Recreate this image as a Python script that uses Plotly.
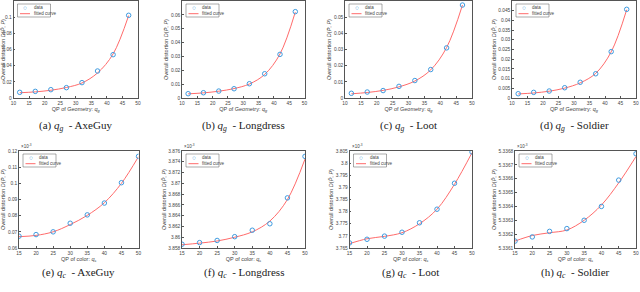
import plotly.graph_objects as go

W, H = 640, 292

# ---------------- data ----------------
qp_geo = [12, 17, 22, 27, 32, 37, 42, 47]
qp_col = [15, 20, 25, 30, 35, 40, 45, 50]

axeguy_g = [0.0070, 0.0082, 0.0103, 0.0128, 0.0190, 0.0334, 0.0536, 0.1023]
axeguy_g_fit = [0.0065, 0.0076, 0.0096, 0.0130, 0.0186, 0.0310, 0.0545, 0.1020]
longdress_g = [0.0031, 0.0038, 0.0050, 0.0067, 0.0103, 0.0175, 0.0315, 0.0623]
longdress_g_fit = [0.0030, 0.0037, 0.0049, 0.0068, 0.0101, 0.0170, 0.0318, 0.0620]
loot_g = [0.0029, 0.0037, 0.0046, 0.0072, 0.0108, 0.0176, 0.0310, 0.0575]
loot_g_fit = [0.0026, 0.0034, 0.0047, 0.0069, 0.0105, 0.0174, 0.0312, 0.0575]
soldier_g = [0.0022, 0.0029, 0.0036, 0.0053, 0.0081, 0.0125, 0.0239, 0.0457]
soldier_g_fit = [0.0021, 0.0026, 0.0035, 0.0051, 0.0078, 0.0127, 0.0238, 0.0455]

axeguy_c = [0.0673, 0.0683, 0.0700, 0.0753, 0.0805, 0.0878, 0.1004, 0.1167]
axeguy_c_fit = [0.0670, 0.0678, 0.0700, 0.0745, 0.0802, 0.0880, 0.1000, 0.1165]
longdress_c = [3.8587, 3.8590, 3.8594, 3.8601, 3.8613, 3.8625, 3.8673, 3.8750]
longdress_c_fit = [3.8586, 3.8589, 3.8593, 3.8600, 3.8610, 3.8630, 3.8670, 3.8745]
loot_c = [3.7671, 3.7686, 3.7699, 3.7715, 3.7754, 3.7810, 3.7917, 3.8046]
loot_c_fit = [3.7668, 3.7688, 3.7698, 3.7713, 3.7750, 3.7810, 3.7913, 3.8043]
soldier_c = [5.33615, 5.33618, 5.33622, 5.33624, 5.33630, 5.33640, 5.33659, 5.33678]
soldier_c_fit = [5.33615, 5.33619, 5.33621, 5.33623, 5.33630, 5.33641, 5.33657, 5.33676]

xticks_geo = [10, 15, 20, 25, 30, 35, 40, 45, 50]
xticks_col = [15, 20, 25, 30, 35, 40, 45, 50]
yt_a = ["0", "0.02", "0.04", "0.06", "0.08", "0.1", "0.12"]
yt_b = ["0", "0.01", "0.02", "0.03", "0.04", "0.05", "0.06", "0.07"]
yt_c = ["0", "0.01", "0.02", "0.03", "0.04", "0.05", "0.06"]
yt_d = ["0", "0.005", "0.01", "0.015", "0.02", "0.025", "0.03", "0.035", "0.04", "0.045", "0.05"]
yt_e = ["0.06", "0.07", "0.08", "0.09", "0.1", "0.11", "0.12"]
yt_f = ["3.858", "3.86", "3.862", "3.864", "3.866", "3.868", "3.87", "3.872", "3.874", "3.876"]
yt_g = ["3.765", "3.77", "3.775", "3.78", "3.785", "3.79", "3.795", "3.8", "3.805"]
yt_h = ["5.3361", "5.3362", "5.3363", "5.3364", "5.3365", "5.3366", "5.3367", "5.3368"]

captions = [
    "(a) <i>q<sub>g</sub></i>  - AxeGuy",
    "(b) <i>q<sub>g</sub></i>  - Longdress",
    "(c) <i>q<sub>g</sub></i>  - Loot",
    "(d) <i>q<sub>g</sub></i>  - Soldier",
    "(e) <i>q<sub>c</sub></i>  - AxeGuy",
    "(f) <i>q<sub>c</sub></i>  - Longdress",
    "(g) <i>q<sub>c</sub></i>  - Loot",
    "(h) <i>q<sub>c</sub></i>  - Soldier",
]
xtitle_geo = "QP of Geometry: <i>q<sub>g</sub></i>"
xtitle_col = "QP of color: <i>q<sub>c</sub></i>"
ytitle = "Overall distortion <i>D</i>(<i>P̂</i>, <i>P</i>)"
exp_label = "×10<sup>-3</sup>"
legend_data = "data"
legend_fit = "fitted curve"

# ---------------- layout (pixel boxes) ----------------
panels = [
    # x0, x1, y0(top), y1(bottom)
    (13.5, 138, 1, 98),
    (182, 304.5, 1, 98),
    (345, 472, 1, 98),
    (512, 636, 1, 98),
    (19, 138.5, 151, 248),
    (182, 305, 151, 248),
    (349.5, 472, 151, 248),
    (515, 636, 151, 248),
]
cap_y = [126, 126, 126, 126, 273, 273, 273, 273]

series = [
    (qp_geo, axeguy_g, axeguy_g_fit, yt_a, xticks_geo, xtitle_geo),
    (qp_geo, longdress_g, longdress_g_fit, yt_b, xticks_geo, xtitle_geo),
    (qp_geo, loot_g, loot_g_fit, yt_c, xticks_geo, xtitle_geo),
    (qp_geo, soldier_g, soldier_g_fit, yt_d, xticks_geo, xtitle_geo),
    (qp_col, axeguy_c, axeguy_c_fit, yt_e, xticks_col, xtitle_col),
    (qp_col, longdress_c, longdress_c_fit, yt_f, xticks_col, xtitle_col),
    (qp_col, loot_c, loot_c_fit, yt_g, xticks_col, xtitle_col),
    (qp_col, soldier_c, soldier_c_fit, yt_h, xticks_col, xtitle_col),
]

MARKER_C = "#3f9be0"
LINE_C = "#ff6b6b"
TXT = "#444"
AX = "#555"

fig = go.Figure()
annotations = []
shapes = []
layout = dict(
    width=W, height=H, margin=dict(l=0, r=0, t=0, b=0),
    paper_bgcolor="white", plot_bgcolor="white", showlegend=False,
    font=dict(family="Liberation Sans", size=5, color=TXT),
)


def px(x):
    return x / W


def py(y):
    return 1 - y / H


for i, (xs, ys, yfit, ytl, xtv, xtitle) in enumerate(series):
    n = i + 1
    xa = "x" if n == 1 else f"x{n}"
    ya = "y" if n == 1 else f"y{n}"
    x0, x1, t, b = panels[i]
    ytv = [float(v) for v in ytl]
    fig.add_trace(go.Scatter(
        x=xs, y=yfit, mode="lines", name=legend_fit, line_shape="spline",
        line=dict(color=LINE_C, width=1), xaxis=xa, yaxis=ya,
    ))
    fig.add_trace(go.Scatter(
        x=xs, y=ys, mode="markers", name=legend_data, xaxis=xa, yaxis=ya,
        marker=dict(symbol="circle-open", size=4.5, color=MARKER_C, line=dict(width=1)),
    ))
    common = dict(
        showline=True, mirror=True, linecolor=AX, linewidth=0.6,
        ticks="inside", ticklen=2, tickwidth=0.5, tickcolor=AX,
        showgrid=False, zeroline=False, automargin=False,
        tickfont=dict(size=4.8, color=TXT),
    )
    layout["xaxis" if n == 1 else f"xaxis{n}"] = dict(
        domain=[px(x0), px(x1)], anchor=ya, range=[xtv[0], xtv[-1]],
        tickvals=xtv, ticktext=[str(v) for v in xtv],
        title=dict(text=xtitle, font=dict(size=5.5, color=TXT), standoff=1),
        **common,
    )
    layout["yaxis" if n == 1 else f"yaxis{n}"] = dict(
        domain=[py(b), py(t)], anchor=xa, range=[ytv[0], ytv[-1]],
        tickvals=ytv, ticktext=ytl,
        title=dict(text=ytitle, font=dict(size=5.5, color=TXT), standoff=1),
        **common,
    )
    # legend box (drawn) near top-left
    lx0 = x0 + 4
    lx1 = lx0 + 33
    ly0 = t + 3
    ly1 = ly0 + 13
    shapes.append(dict(type="rect", xref="paper", yref="paper",
                       x0=px(lx0), x1=px(lx1), y0=py(ly1), y1=py(ly0),
                       line=dict(color=AX, width=0.5), fillcolor="white", layer="above"))
    shapes.append(dict(type="line", xref="paper", yref="paper",
                       x0=px(lx0 + 2.5), x1=px(lx0 + 12.5), y0=py(ly0 + 9.7), y1=py(ly0 + 9.7),
                       line=dict(color=LINE_C, width=1), layer="above"))
    annotations.append(dict(text="○", x=px(lx0 + 7.5), y=py(ly0 + 3.6), xref="paper", yref="paper",
                            xanchor="center", yanchor="middle",
                            showarrow=False, font=dict(size=6.5, color=MARKER_C)))
    annotations.append(dict(text=legend_data, x=px(lx0 + 14), y=py(ly0 + 3.6), xref="paper",
                            yref="paper", xanchor="left", yanchor="middle", showarrow=False,
                            font=dict(size=4.5, color=TXT)))
    annotations.append(dict(text=legend_fit, x=px(lx0 + 14), y=py(ly0 + 9.7), xref="paper",
                            yref="paper", xanchor="left", yanchor="middle", showarrow=False,
                            font=dict(size=4.5, color=TXT)))
    annotations.append(dict(
        text=captions[i], x=px((x0 + x1) / 2), y=py(cap_y[i]),
        xref="paper", yref="paper", xanchor="center", yanchor="middle", showarrow=False,
        font=dict(family="Liberation Serif", size=11, color="#222"),
    ))
    if n >= 5:
        annotations.append(dict(
            text=exp_label, x=px(x0), y=py(t), xref="paper", yref="paper",
            xanchor="left", yanchor="bottom", showarrow=False,
            font=dict(size=4.5, color=TXT),
        ))

layout["annotations"] = annotations
layout["shapes"] = shapes
fig.update_layout(**layout)
fig.write_html(
    "out.html",
    config={"displayModeBar": False},
    post_script="document.body.style.margin='0';document.body.style.overflow='hidden';",
)
